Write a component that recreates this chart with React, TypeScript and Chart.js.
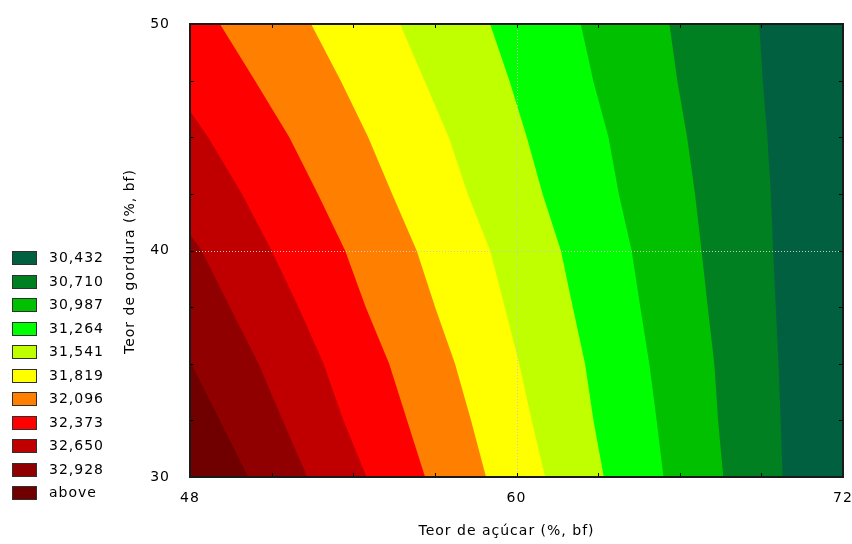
import { useEffect, useRef } from "react";
import { Chart, registerables } from "chart.js";

Chart.register(...registerables);

// Axis ranges and tick spacing
const SUGAR_MIN = 48;
const SUGAR_MAX = 72;
const SUGAR_STEP = 3;
const FAT_MIN = 30;
const FAT_MAX = 50;
const FAT_STEP = 2.5;
const SUGAR_LABELS = [48, 60, 72];
const FAT_LABELS = [30, 40, 50];
const SUGAR_GRID = [60];
const FAT_GRID = [40];

// Fat levels at which every contour boundary is sampled
const FAT_LEVELS = [30, 32.5, 35, 37.5, 40, 42.5, 45, 47.5, 50];

// Sugar content where each band begins (left boundary of the band), one value per FAT_LEVELS entry.
// Values below 48 continue past the left edge of the plot and are clipped there.
const START_32928 = [50.14, 49.1, 48.05, 47.0, 45.9, 44.7, 43.5, 42.3, 41.1];
const START_32650 = [52.31, 51.41, 50.52, 49.47, 48.43, 46.93, 45.43, 43.93, 42.43];
const START_32373 = [54.49, 53.64, 52.91, 51.99, 51.0, 49.91, 48.67, 47.22, 45.77];
const START_32096 = [56.64, 55.98, 55.32, 54.46, 53.7, 52.7, 51.65, 50.39, 49.1];
const START_31819 = [58.88, 58.33, 57.74, 57.01, 56.33, 55.43, 54.55, 53.54, 52.45];
const START_31541 = [61.05, 60.56, 60.1, 59.57, 59.03, 58.21, 57.51, 56.62, 55.72];
const START_31264 = [63.21, 62.83, 62.52, 62.07, 61.63, 60.96, 60.38, 59.74, 59.03];
const START_30987 = [65.4, 65.15, 64.88, 64.55, 64.23, 63.76, 63.38, 62.82, 62.36];
const START_30710 = [67.6, 67.41, 67.27, 67.03, 66.8, 66.56, 66.27, 65.91, 65.62];
const START_30432 = [69.78, 69.71, 69.63, 69.53, 69.43, 69.35, 69.22, 69.05, 68.92];

// Legend entries (upper bound of each band), top to bottom
const LEVEL_LABELS = [
  "30,432", "30,710", "30,987", "31,264", "31,541", "31,819",
  "32,096", "32,373", "32,650", "32,928", "above",
];
const LEVEL_COLORS = [
  "#006040", "#008020", "#00c000", "#00ff00", "#c0ff00", "#ffff00",
  "#ff8000", "#ff0000", "#c00000", "#900000", "#700000",
];
const LEVEL_STARTS: (number[] | null)[] = [
  START_30432, START_30710, START_30987, START_31264, START_31541, START_31819,
  START_32096, START_32373, START_32650, START_32928, null,
];

const X_TITLE = "Teor de açúcar (%, bf)";
const Y_TITLE = "Teor de gordura (%, bf)";

const FONT = '"DejaVu Sans", Verdana, sans-serif';

// Region from a band's left boundary to the right edge of the plot.
// The open-ended band covers the whole plot and sits underneath the others.
function regionPoints(start: number[] | null) {
  if (!start) {
    return [
      { x: SUGAR_MIN, y: FAT_MIN },
      { x: SUGAR_MIN, y: FAT_MAX },
      { x: SUGAR_MAX, y: FAT_MAX },
      { x: SUGAR_MAX, y: FAT_MIN },
    ];
  }
  const edge = FAT_LEVELS.map((fat, i) => ({ x: start[i], y: fat }));
  return [...edge, { x: SUGAR_MAX, y: FAT_MAX }, { x: SUGAR_MAX, y: FAT_MIN }];
}

const decorations = {
  id: "decorations",
  beforeDraw(chart: any) {
    const ctx = chart.ctx;
    ctx.save();
    ctx.fillStyle = "#ffffff";
    ctx.fillRect(0, 0, chart.width, chart.height);
    ctx.restore();
    ctx.letterSpacing = "1px";
  },
  afterDatasetsDraw(chart: any) {
    const { ctx, chartArea: a, scales } = chart;
    const xs = scales.x;
    const ys = scales.y;
    ctx.save();

    // dotted major grid lines
    ctx.strokeStyle = "#c8c8c8";
    ctx.lineWidth = 1;
    ctx.setLineDash([1, 2]);
    SUGAR_GRID.forEach((v) => {
      const px = Math.round(xs.getPixelForValue(v)) + 0.5;
      ctx.beginPath();
      ctx.moveTo(px, a.top);
      ctx.lineTo(px, a.bottom);
      ctx.stroke();
    });
    FAT_GRID.forEach((v) => {
      const py = Math.round(ys.getPixelForValue(v)) + 0.5;
      ctx.beginPath();
      ctx.moveTo(a.left, py);
      ctx.lineTo(a.right, py);
      ctx.stroke();
    });
    ctx.setLineDash([]);

    // inward tick marks on all four sides
    const len = 4;
    ctx.strokeStyle = "#000000";
    ctx.lineWidth = 1;
    xs.ticks.forEach((t: any) => {
      const px = Math.round(xs.getPixelForValue(t.value)) + 0.5;
      ctx.beginPath();
      ctx.moveTo(px, a.top);
      ctx.lineTo(px, a.top + len);
      ctx.moveTo(px, a.bottom);
      ctx.lineTo(px, a.bottom - len);
      ctx.stroke();
    });
    ys.ticks.forEach((t: any) => {
      const py = Math.round(ys.getPixelForValue(t.value)) + 0.5;
      ctx.beginPath();
      ctx.moveTo(a.left, py);
      ctx.lineTo(a.left + len, py);
      ctx.moveTo(a.right, py);
      ctx.lineTo(a.right - len, py);
      ctx.stroke();
    });

    // plot frame
    ctx.strokeStyle = "#1a1a1a";
    ctx.lineWidth = 2;
    ctx.strokeRect(a.left, a.top, a.right - a.left, a.bottom - a.top);
    ctx.restore();
  },
  afterDraw(chart: any) {
    const { ctx, chartArea: a } = chart;
    ctx.save();
    ctx.letterSpacing = "1px";
    ctx.fillStyle = "#000000";
    ctx.font = `14px ${FONT}`;

    // axis titles
    ctx.textAlign = "center";
    ctx.textBaseline = "middle";
    ctx.fillText(X_TITLE, (a.left + a.right) / 2 - 10, 531);
    ctx.save();
    ctx.translate(130, (a.top + a.bottom) / 2 + 11);
    ctx.rotate(-Math.PI / 2);
    ctx.fillText(Y_TITLE, 0, 0);
    ctx.restore();

    // legend of contour levels
    const boxX = 12;
    const boxW = 25;
    const boxH = 14;
    const top0 = 251;
    const step = 23.5;
    ctx.textAlign = "left";
    LEVEL_LABELS.forEach((label, i) => {
      const top = Math.round(top0 + i * step);
      ctx.fillStyle = LEVEL_COLORS[i];
      ctx.fillRect(boxX, top, boxW, boxH);
      ctx.strokeStyle = "#303030";
      ctx.lineWidth = 1;
      ctx.strokeRect(boxX + 0.5, top + 0.5, boxW - 1, boxH - 1);
      ctx.fillStyle = "#000000";
      ctx.fillText(label, 49, top + boxH / 2 + 0.5);
    });
    ctx.restore();
  },
};

export default function App() {
  const canvasRef = useRef<HTMLCanvasElement | null>(null);

  useEffect(() => {
    const canvas = canvasRef.current;
    if (!canvas) return;

    const datasets = LEVEL_LABELS.map((label, i) => ({
      label,
      data: regionPoints(LEVEL_STARTS[i]),
      showLine: true,
      fill: "shape" as const,
      backgroundColor: LEVEL_COLORS[i],
      borderColor: LEVEL_COLORS[i],
      borderWidth: 0,
      pointRadius: 0,
      tension: 0,
      order: i,
    }));

    const chart = new Chart(canvas, {
      type: "scatter",
      data: { datasets },
      options: {
        animation: false,
        responsive: false,
        devicePixelRatio: 1,
        events: [],
        layout: {
          autoPadding: false,
          padding: { left: 0, right: 9, top: 24, bottom: 0 },
        },
        plugins: {
          legend: { display: false },
          tooltip: { enabled: false },
        },
        scales: {
          x: {
            type: "linear",
            min: SUGAR_MIN,
            max: SUGAR_MAX,
            grid: { display: false },
            border: { display: false },
            ticks: {
              stepSize: SUGAR_STEP,
              autoSkip: false,
              maxRotation: 0,
              padding: 5,
              color: "#000000",
              font: { family: FONT, size: 14 },
              callback: (v: any) => (SUGAR_LABELS.includes(Number(v)) ? String(v) : ""),
            },
            afterFit: (s: any) => {
              s.height = 67;
              s.paddingLeft = 0;
              s.paddingRight = 0;
            },
          },
          y: {
            type: "linear",
            min: FAT_MIN,
            max: FAT_MAX,
            grid: { display: false },
            border: { display: false },
            ticks: {
              stepSize: FAT_STEP,
              autoSkip: false,
              padding: 12,
              color: "#000000",
              font: { family: FONT, size: 14 },
              callback: (v: any) => (FAT_LABELS.includes(Number(v)) ? String(v) : ""),
            },
            afterFit: (s: any) => {
              s.width = 190;
              s.paddingTop = 0;
              s.paddingBottom = 0;
            },
          },
        },
      },
      plugins: [decorations],
    });

    return () => chart.destroy();
  }, []);

  return (
    <div style={{ position: "fixed", left: 0, top: 0, width: 852, height: 544, background: "#ffffff" }}>
      <canvas ref={canvasRef} width={852} height={544} />
    </div>
  );
}
